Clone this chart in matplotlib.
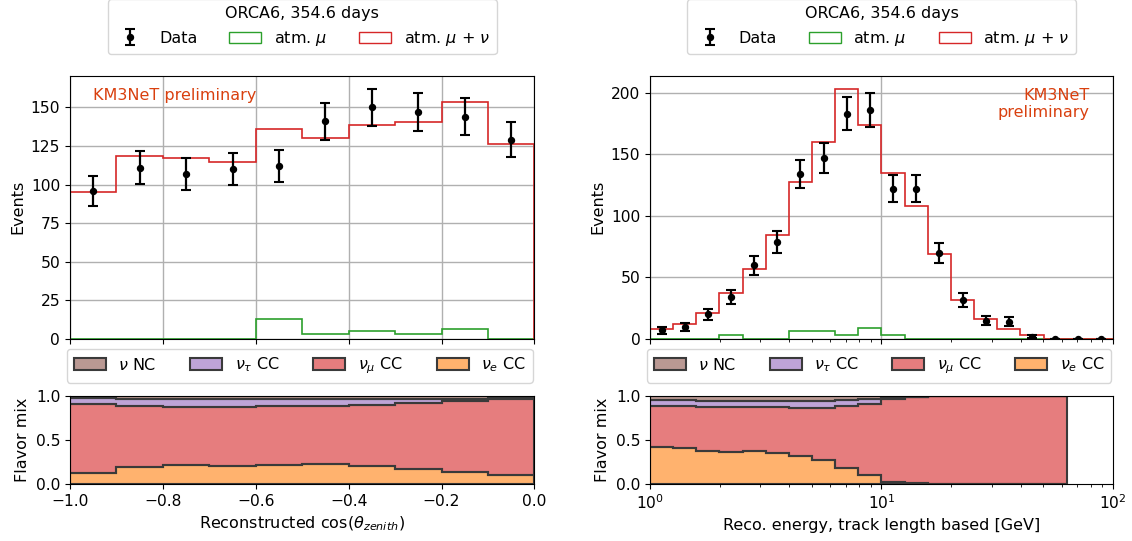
import numpy as np
import matplotlib.pyplot as plt
from matplotlib.patches import Patch
from matplotlib.colors import to_rgba

plt.rcParams['font.size'] = 11.5
plt.rcParams['xtick.labelsize'] = 11.2
plt.rcParams['ytick.labelsize'] = 11.2

# --- zenith (left) ---
cz_edges = np.linspace(-1.0, 0.0, 11)
cz_data = [96, 111, 107, 110, 112, 141, 150, 147, 144, 129]
cz_err = [9.8, 10.5, 10.3, 10.5, 10.6, 11.9, 12.2, 12.1, 12.0, 11.4]
cz_total = [95.5, 118.4, 117.3, 114.4, 136.3, 130.0, 138.4, 140.5, 153.3, 126.1]
cz_mu = [0, 0, 0, 0, 13.1, 3.0, 5.2, 3.0, 6.7, 0]
cz_nue = [0.13, 0.195, 0.21, 0.205, 0.215, 0.225, 0.205, 0.165, 0.135, 0.105]
cz_numu = [0.78, 0.69, 0.665, 0.675, 0.67, 0.66, 0.695, 0.76, 0.81, 0.865]
cz_nutau = [0.065, 0.085, 0.09, 0.085, 0.08, 0.08, 0.06, 0.045, 0.025, 0.01]
cz_nc = [0.025, 0.03, 0.035, 0.035, 0.035, 0.035, 0.04, 0.03, 0.03, 0.02]

# --- energy (right) ---
e_edges = np.logspace(0, 2, 21)
e_data = [7, 10, 20, 34, 60, 79, 134, 147, 183, 186, 122, 122, 70, 32, 15, 14, 2, 0, 0, 0]
e_err = [2.6, 3.2, 4.5, 5.8, 7.7, 8.9, 11.6, 12.1, 13.5, 13.6, 11.0, 11.0, 8.4, 5.7, 3.9, 3.7, 1.4, 0, 0, 0]
e_total = [8, 12, 21, 37.4, 56.5, 84.3, 127.5, 160.3, 203.5, 173.7, 134.8, 107.7, 68.9, 31.5, 16, 8.4, 3.5, 0.3, 0, 0]
e_mu = [0, 0, 0, 3.5, 0, 0, 6.5, 6.5, 3.5, 8.7, 3.5, 0, 0, 0, 0, 0, 0, 0, 0, 0]
e_nue = [0.425, 0.41, 0.38, 0.365, 0.38, 0.35, 0.315, 0.27, 0.185, 0.105, 0.022, 0.008, 0, 0, 0, 0, 0, 0]
e_numu = [0.465, 0.475, 0.50, 0.513, 0.495, 0.52, 0.551, 0.592, 0.705, 0.805, 0.948, 0.977, 0.995, 0.997, 0.998, 0.999, 1.0, 1.0]
e_nutau = [0.065, 0.065, 0.068, 0.07, 0.072, 0.076, 0.08, 0.084, 0.065, 0.05, 0.015, 0.007, 0.003, 0.002, 0.001, 0.001, 0, 0]
e_nc = [0.045, 0.05, 0.052, 0.052, 0.053, 0.054, 0.054, 0.054, 0.045, 0.04, 0.015, 0.008, 0.002, 0.001, 0.001, 0, 0, 0]

flav_labels = [r'$\nu$ NC', r'$\nu_\tau$ CC', r'$\nu_\mu$ CC', r'$\nu_e$ CC']
flav_colors = ['tab:brown', 'tab:purple', 'tab:red', 'tab:orange']
edge_col = '#3a3a3a'
txt_col = '#d9400f'

fig = plt.figure(figsize=(11.32, 5.41), dpi=100)
axL = fig.add_axes([0.0618, 0.3734, 0.4103, 0.4867])
axLb = fig.add_axes([0.0618, 0.1054, 0.4103, 0.1627], sharex=axL)
axR = fig.add_axes([0.5742, 0.3734, 0.4090, 0.4867])
axRb = fig.add_axes([0.5742, 0.1054, 0.4090, 0.1627], sharex=axR)


def top_panel(ax, edges, data, err, total, mu, ymax):
    ax.grid(True, color='#b0b0b0', lw=1)
    ax.set_axisbelow(True)
    ax.stairs(mu, edges, color='tab:green', lw=1.2)
    ax.stairs(total, edges, color='tab:red', lw=1.2)
    centers = np.sqrt(edges[1:] * edges[:-1]) if edges[0] > 0 else 0.5 * (edges[1:] + edges[:-1])
    eb = ax.errorbar(centers, data, yerr=err, fmt='o', color='k', ms=4.3, capsize=3.5,
                     elinewidth=1.6, capthick=1.5)
    ax.set_ylim(0, ymax)
    ax.set_ylabel('Events')
    ax.tick_params(labelbottom=False)
    handles = [eb, Patch(facecolor='none', edgecolor='tab:green'),
               Patch(facecolor='none', edgecolor='tab:red')]
    ax.legend(handles, ['Data', r'atm. $\mu$', r'atm. $\mu$ + $\nu$'], ncol=3,
              loc='lower center', bbox_to_anchor=(0.5, 1.082), borderaxespad=0,
              title='ORCA6, 354.6 days', title_fontsize=11.5)


def flavor_panel(ax, edges, fracs):
    n = len(fracs[0])
    base = np.zeros(n)
    # stack from bottom: nue, numu, nutau, nc
    for frac, col in zip(fracs, flav_colors[::-1]):
        top = base + np.array(frac)
        ax.stairs(top, edges[:n + 1], baseline=base, fill=True,
                  facecolor=to_rgba(col, 0.6), edgecolor=edge_col, lw=1.5)
        base = top
    ax.set_ylim(0, 1)
    ax.set_ylabel('Flavor mix')
    handles = [Patch(facecolor=to_rgba(c, 0.6), edgecolor=edge_col, lw=1.5) for c in flav_colors]
    ax.legend(handles, flav_labels, ncol=4, loc='lower left', mode='expand',
              bbox_to_anchor=(-0.006, 1.151, 1.002, 0.2), borderaxespad=0)


top_panel(axL, cz_edges, cz_data, cz_err, cz_total, cz_mu, 170.5)
top_panel(axR, e_edges, e_data, e_err, e_total, e_mu, 214)

flavor_panel(axLb, cz_edges, [cz_nue, cz_numu, cz_nutau, cz_nc])
flavor_panel(axRb, e_edges, [e_nue, e_numu, e_nutau, e_nc])

axLb.set_xlim(-1, 0)
axLb.set_xlabel(r'Reconstructed cos($\theta_{zenith}$)')
axRb.set_xscale('log')
axRb.set_xlim(1, 100)
axRb.set_xlabel('Reco. energy, track length based [GeV]')

axL.text(0.05, 0.925, 'KM3NeT preliminary', color=txt_col, transform=axL.transAxes,
         va='center', ha='left')
axR.text(0.95, 0.955, 'KM3NeT\npreliminary', color=txt_col, transform=axR.transAxes,
         va='top', ha='right', multialignment='right')

fig.savefig('out.png', dpi=100)
